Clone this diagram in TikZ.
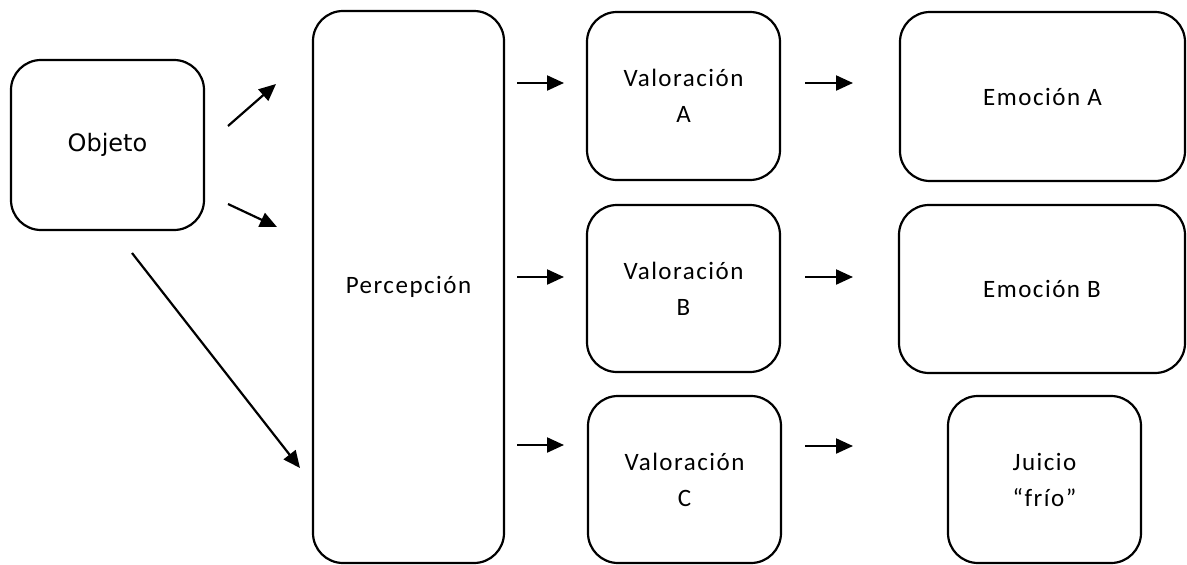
\documentclass[tikz,border=0pt]{standalone}
\usepackage{fontspec}
\setmainfont{Carlito}[LetterSpace=6]
\newfontfamily\objfont{DejaVu Sans}
\usetikzlibrary{arrows.meta}
\tikzset{
  box/.style={draw=black, line width=2.2pt, rounded corners=30pt, inner sep=0pt, outer sep=0pt,
    align=center, font=\fontsize{25}{36}\selectfont},
  arr/.style={line width=2.2pt, -{Triangle[length=17pt,width=15pt]}}
}
\begin{document}
\begin{tikzpicture}[x=1pt,y=-1pt]
\useasboundingbox (0,0) rectangle (1187,565);
\node[box, minimum width=193pt, minimum height=170pt, font=\objfont\fontsize{24}{30}\selectfont] (obj) at (107.5,145) {Objeto};
\node[box, minimum width=191pt, minimum height=552pt] (per) at (408.5,287) {Percepción};
\node[box, minimum width=193pt, minimum height=168pt] (va) at (683.5,96) {Valoración\\A};
\node[box, minimum width=193pt, minimum height=167pt] (vb) at (683.5,288.5) {Valoración\\B};
\node[box, minimum width=193pt, minimum height=167pt] (vc) at (684.5,479.5) {Valoración\\C};
\node[box, minimum width=285pt, minimum height=169pt] (ea) at (1042.5,96.5) {Emoción A};
\node[box, minimum width=286pt, minimum height=168pt] (eb) at (1042,289) {Emoción B};
\node[box, minimum width=193pt, minimum height=167pt] (ju) at (1044.5,479.5) {Juicio\\“frío”};
% arrow endpoints
\coordinate (o1s) at (228,126); \coordinate (o1e) at (276,84);
\coordinate (o2s) at (228,204); \coordinate (o2e) at (277,227);
\coordinate (o3s) at (132,253); \coordinate (o3e) at (300,468);
\coordinate (p1s) at (517,83); \coordinate (p1e) at (564,83);
\coordinate (p2s) at (517,277); \coordinate (p2e) at (564,277);
\coordinate (p3s) at (517,445); \coordinate (p3e) at (564,445);
\coordinate (v1s) at (805,83); \coordinate (v1e) at (853,83);
\coordinate (v2s) at (805,277); \coordinate (v2e) at (853,277);
\coordinate (v3s) at (805,446); \coordinate (v3e) at (853,446);
\draw[arr] (o1s) -- (o1e);
\draw[arr] (o2s) -- (o2e);
\draw[arr] (o3s) -- (o3e);
\draw[arr] (p1s) -- (p1e);
\draw[arr] (p2s) -- (p2e);
\draw[arr] (p3s) -- (p3e);
\draw[arr] (v1s) -- (v1e);
\draw[arr] (v2s) -- (v2e);
\draw[arr] (v3s) -- (v3e);
\end{tikzpicture}
\end{document}
